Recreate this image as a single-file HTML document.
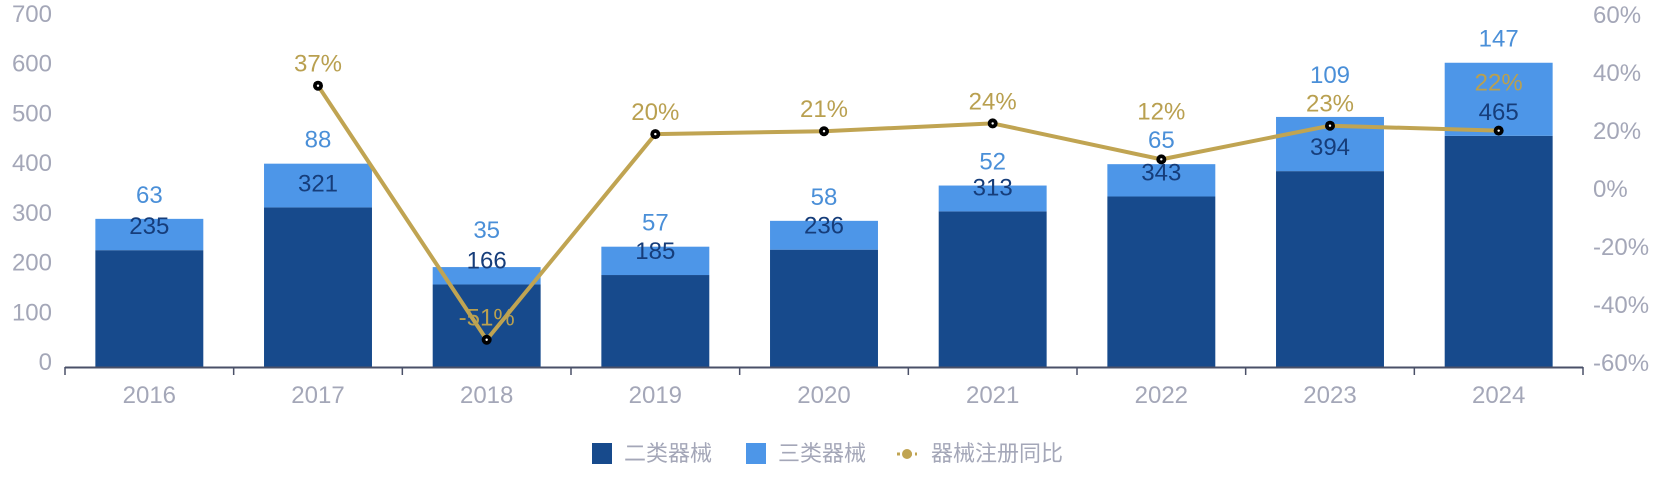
<!DOCTYPE html>
<html><head><meta charset="utf-8"><style>
html,body{margin:0;padding:0;background:#fff;}
svg{display:block;font-family:"Liberation Sans","Noto Sans CJK SC",sans-serif;}
</style></head><body>
<svg id="chart" width="1666" height="498" viewBox="0 0 1666 498">
<g id="bars"></g>
<g id="axes"></g>
<g id="line"></g>
<g id="labels"></g>
<g id="legend">
  <rect x="592" y="443" width="20" height="21" fill="#174a8c"/>
  <text x="624" y="461" font-size="22" fill="#a4a7b8">二类器械</text>
  <rect x="746" y="443" width="20" height="21" fill="#4d96e8"/>
  <text x="778" y="461" font-size="22" fill="#a4a7b8">三类器械</text>
  <line x1="897" y1="454" x2="917" y2="454" stroke="#c0a452" stroke-width="3" stroke-dasharray="3 3"/>
  <circle cx="907" cy="454" r="5" fill="#c0a452"/>
  <text x="931" y="461" font-size="22" fill="#a4a7b8">器械注册同比</text>
</g>
</svg>
<script>
const categories = ["2016","2017","2018","2019","2020","2021","2022","2023","2024"];
const class2 = [235,321,166,185,236,313,343,394,465];
const class3 = [63,88,35,57,58,52,65,109,147];
const yoyYears = ["2017","2018","2019","2020","2021","2022","2023","2024"];
const yoy = [37,-50.6,20.3,21.3,24,11.6,23.2,21.5];
const leftTicks = [0,100,200,300,400,500,600,700];
const rightTicks = [-60,-40,-20,0,20,40,60];

// label collision nudges (styling only)
const class3Nudge = [0,0,-13,0,0,0,0,-18,0];
const yoyNudge = [0,0,0,0,0,-26,0,-26];

const NS="http://www.w3.org/2000/svg";
const X0=65,X1=1583,YT=19,YB=367;
const catW=(X1-X0)/categories.length;
const xc=i=>X0+catW*(i+0.5);
const yL=v=>YB-(v/700)*(YB-YT);
const yR=v=>YB-((v+60)/120)*(YB-YT);
function mk(tag,attrs,parent){const e=document.createElementNS(NS,tag);for(const k in attrs)e.setAttribute(k,attrs[k]);parent.appendChild(e);return e;}
const gB=document.getElementById('bars'),gA=document.getElementById('axes'),gL=document.getElementById('line'),gT=document.getElementById('labels');
const bw=catW*0.64;
categories.forEach((c,i)=>{
  const x=xc(i)-bw/2;
  const d=mk('rect',{x:x,y:yL(class2[i]),width:bw,height:YB-yL(class2[i]),fill:'#174a8c'},gB);
  
  
  const tot=class2[i]+class3[i];
  const l=mk('rect',{x:x,y:yL(tot),width:bw,height:yL(class2[i])-yL(tot),fill:'#4d96e8'},gB);
  
  
  const t1=mk('text',{x:xc(i),y:yL(tot)-24+8+(class3Nudge[i]||0),'font-size':24,fill:'#4a8fd8','text-anchor':'middle'},gT);
  t1.textContent=class3[i];
  
  
  const t2=mk('text',{x:xc(i),y:yL(class2[i])-24+8,'font-size':24,fill:'#163d7a','text-anchor':'middle'},gT);
  t2.textContent=class2[i];
  
  
  const xt=mk('text',{x:xc(i),y:403,'font-size':24,fill:'#a4a7b8','text-anchor':'middle'},gA);
  xt.textContent=c;
  
  
});
const ax=mk('line',{x1:X0,y1:YB+0.5,x2:X1,y2:YB+0.5,stroke:'#4a5068','stroke-width':2},gA);


for(let i=0;i<=categories.length;i++){
  const tk=mk('line',{x1:X0+catW*i,y1:YB,x2:X0+catW*i,y2:YB+8,stroke:'#4a5068','stroke-width':1.5},gA);
  
  
}
leftTicks.forEach(v=>{
  const t=mk('text',{x:52,y:yL(v)-5+8,'font-size':24,fill:'#a4a7b8','text-anchor':'end'},gA);
  t.textContent=v;
  
  
});
rightTicks.forEach(v=>{
  const t=mk('text',{x:1593,y:yR(v)-4+8,'font-size':24,fill:'#a4a7b8','text-anchor':'start'},gA);
  t.textContent=v+'%';
  
  
});
const pts=yoyYears.map((y,j)=>[xc(categories.indexOf(y)),yR(yoy[j])]);
const pl=mk('polyline',{points:pts.map(p=>p.join(',')).join(' '),fill:'none',stroke:'#c0a452','stroke-width':4,'stroke-linejoin':'round'},gL);


pts.forEach((p,j)=>{
  const c=mk('circle',{cx:p[0],cy:p[1],r:5,fill:'#000'},gL);
  
  
  mk('circle',{cx:p[0],cy:p[1],r:1.2,fill:'#fff'},gL);
  const t=mk('text',{x:p[0],y:p[1]-22+8+(yoyNudge[j]||0),'font-size':24,fill:'#b9a050','text-anchor':'middle'},gT);
  t.textContent=Math.round(yoy[j])+'%';
  
  
});
</script>
</body></html>
